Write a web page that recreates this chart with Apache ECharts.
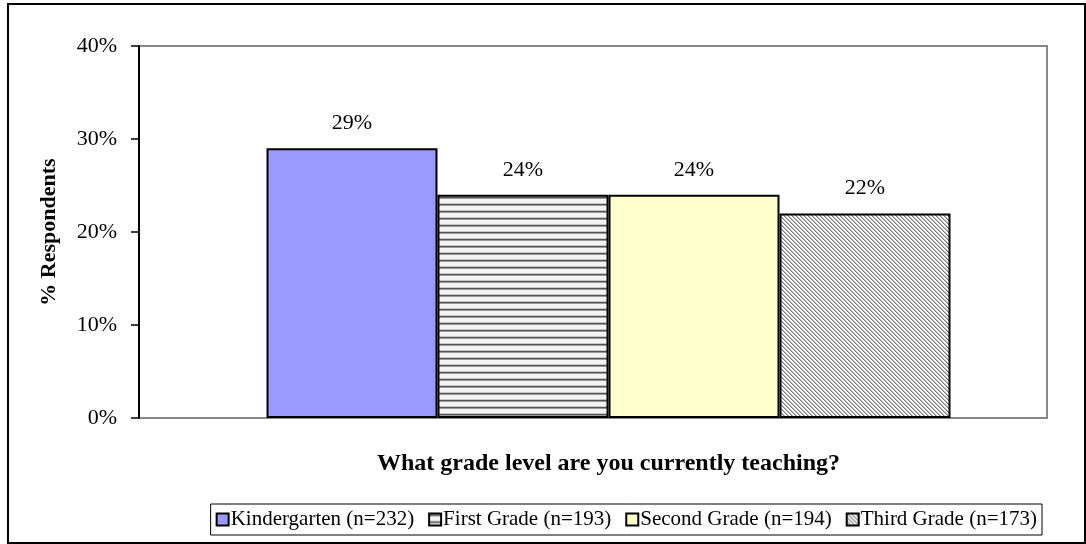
<!DOCTYPE html>
<html>
<head>
<meta charset="utf-8">
<script src="https://cdn.jsdelivr.net/npm/echarts@6/dist/echarts.min.js"></script>
<style>
  html, body { margin: 0; padding: 0; background: #fff; }
  #main { width: 1086px; height: 544px; }
</style>
</head>
<body>
<div id="main"></div>
<script>
// data
var grades = ['Kindergarten (n=232)', 'First Grade (n=193)', 'Second Grade (n=194)', 'Third Grade (n=173)'];
var percents = [29, 24, 24, 22];
var yMin = 0, yMax = 40, yStep = 10;

var font = 'Liberation Serif';

// horizontal line fill (First Grade)
function hLines() {
    var cv = document.createElement('canvas');
    cv.width = 8; cv.height = 7;
    var ctx = cv.getContext('2d');
    ctx.fillStyle = '#f4f4f4';
    ctx.fillRect(0, 0, 8, 7);
    ctx.fillStyle = '#c8c8c8';
    ctx.fillRect(0, 0, 8, 1);
    ctx.fillStyle = '#555';
    ctx.fillRect(0, 1, 8, 1);
    ctx.fillStyle = '#999';
    ctx.fillRect(0, 2, 8, 1);
    return cv;
}
// diagonal hatch (Third Grade)
function diag() {
    var cv = document.createElement('canvas');
    cv.width = 4; cv.height = 4;
    var ctx = cv.getContext('2d');
    ctx.fillStyle = '#fff';
    ctx.fillRect(0, 0, 4, 4);
    for (var y = 0; y < 4; y++) {
        for (var x = 0; x < 4; x++) {
            var d = ((x - y) % 4 + 4) % 4;
            if (d == 0) { ctx.fillStyle = '#777'; ctx.fillRect(x, y, 1, 1); }
            if (d == 1) { ctx.fillStyle = '#bbb'; ctx.fillRect(x, y, 1, 1); }
        }
    }
    return cv;
}

var fills = [
    '#9999ff',
    { image: hLines(), repeat: 'repeat' },
    '#ffffcc',
    { image: diag(), repeat: 'repeat' }
];

var series = grades.map(function (g, i) {
    return {
        name: g,
        type: 'bar',
        xAxisIndex: 1,
        yAxisIndex: 1,
        barWidth: 171,
        barGap: '0%',
        data: [percents[i]],
        itemStyle: { color: fills[i], borderColor: '#000', borderWidth: 2 },
        label: {
            show: true,
            position: 'top',
            distance: 14,
            formatter: '{c}%',
            fontFamily: font,
            fontSize: 22,
            color: '#000'
        }
    };
});

var myChart = echarts.init(document.getElementById('main'));
myChart.setOption({
    animation: false,
    textStyle: { fontFamily: font, color: '#000' },
    graphic: [{
        type: 'rect',
        shape: { x: 8, y: 4, width: 1077, height: 539 },
        style: { fill: 'none', stroke: '#000', lineWidth: 2 },
        z: 100
    }],
    grid: [
        { left: 139, right: 39, top: 46, bottom: 126, show: true, borderColor: '#888', borderWidth: 2 },
        { left: 170, right: 39, top: 46, bottom: 126 }
    ],
    legend: {
        data: grades,
        right: 44,
        top: 504,
        icon: 'rect',
        itemWidth: 12,
        itemHeight: 12,
        itemGap: 14,
        padding: [5, 5],
        borderColor: '#000',
        borderWidth: 1,
        textStyle: { fontFamily: font, fontSize: 21, color: '#000', padding: [0, 0, 0, -3] },
        itemStyle: { borderColor: '#000', borderWidth: 2 }
    },
    xAxis: [
        {
            gridIndex: 0,
            type: 'category',
            data: [''],
            axisLine: { show: false },
            axisTick: { show: false },
            axisLabel: { show: false }
        },
        {
            gridIndex: 1,
            type: 'category',
            data: [''],
            name: 'What grade level are you currently teaching?',
            nameLocation: 'middle',
            nameGap: 34,
            nameTextStyle: { fontFamily: font, fontSize: 24, fontWeight: 'bold', color: '#000' },
            axisLine: { show: false },
            axisTick: { show: false },
            axisLabel: { show: false }
        }
    ],
    yAxis: [
        {
            gridIndex: 0,
            type: 'value',
            min: yMin,
            max: yMax,
            interval: yStep,
            name: '% Respondents',
            nameLocation: 'middle',
            nameRotate: 90,
            nameGap: 79,
            nameTextStyle: { fontFamily: font, fontSize: 22, fontWeight: 'bold', color: '#000' },
            axisLine: { show: true, lineStyle: { color: '#000', width: 2 } },
            axisTick: { show: true, inside: false, length: 8, lineStyle: { color: '#000', width: 1.5 } },
            axisLabel: { formatter: '{value}%', fontFamily: font, fontSize: 22, color: '#000', margin: 22 },
            splitLine: { show: false }
        },
        {
            gridIndex: 1,
            type: 'value',
            min: yMin,
            max: yMax,
            interval: yStep,
            show: false
        }
    ],
    series: series
});
</script>
</body>
</html>
